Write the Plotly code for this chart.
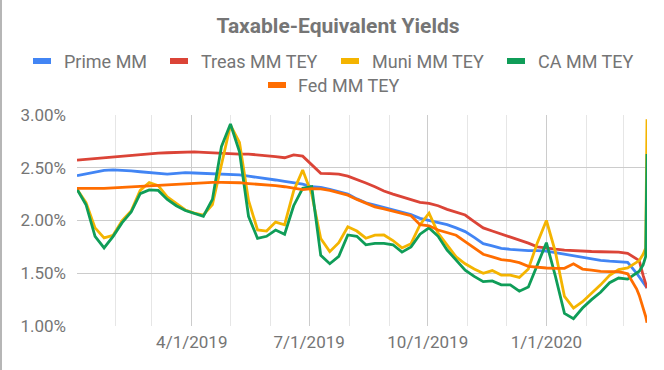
import plotly.graph_objects as go

dates = [
    "2019-01-02", "2019-01-09", "2019-01-16", "2019-01-23", "2019-01-30",
    "2019-02-06", "2019-02-13", "2019-02-20", "2019-02-27", "2019-03-06",
    "2019-03-13", "2019-03-20", "2019-03-27", "2019-04-03", "2019-04-10",
    "2019-04-17", "2019-04-24", "2019-05-01", "2019-05-08", "2019-05-15",
    "2019-05-22", "2019-05-29", "2019-06-05", "2019-06-12", "2019-06-19",
    "2019-06-26", "2019-07-03", "2019-07-10", "2019-07-17", "2019-07-24",
    "2019-07-31", "2019-08-07", "2019-08-14", "2019-08-21", "2019-08-28",
    "2019-09-04", "2019-09-11", "2019-09-18", "2019-09-25", "2019-10-02",
    "2019-10-09", "2019-10-16", "2019-10-23", "2019-10-30", "2019-11-06",
    "2019-11-13", "2019-11-20", "2019-11-27", "2019-12-04", "2019-12-11",
    "2019-12-18", "2019-12-25", "2020-01-01", "2020-01-08", "2020-01-15",
    "2020-01-22", "2020-01-29", "2020-02-05", "2020-02-12", "2020-02-19",
    "2020-02-26", "2020-03-04", "2020-03-11", "2020-03-13", "2020-03-16",
    "2020-03-17", "2020-03-18", "2020-03-19",
]

prime_mm = [2.425, 2.44, 2.46, 2.475, 2.479, 2.478, 2.47, 2.462, 2.455, 2.45,
            2.44, 2.447, 2.453, 2.45, 2.447, 2.444, 2.441, 2.44, 2.432, 2.42,
            2.41, 2.398, 2.384, 2.37, 2.355, 2.345, 2.32, 2.313, 2.296, 2.276,
            2.25, 2.205, 2.168, 2.145, 2.123, 2.10, 2.08, 2.055, 2.02, 2.0,
            1.985, 1.96, 1.93, 1.895, 1.84, 1.78, 1.76, 1.735, 1.727, 1.72,
            1.715, 1.714, 1.71, 1.695, 1.68, 1.663, 1.645, 1.633, 1.622, 1.614,
            1.61, 1.603, 1.50, 1.465, 1.42, 1.40, 1.375, 1.36]

treas_tey = [2.573, 2.58, 2.59, 2.60, 2.607, 2.615, 2.62, 2.627, 2.634, 2.638,
             2.642, 2.645, 2.646, 2.65, 2.645, 2.64, 2.635, 2.63, 2.63, 2.63,
             2.624, 2.616, 2.605, 2.595, 2.622, 2.61, 2.53, 2.447, 2.445, 2.44,
             2.42, 2.39, 2.355, 2.32, 2.28, 2.25, 2.225, 2.20, 2.172, 2.163,
             2.14, 2.105, 2.08, 2.052, 1.99, 1.93, 1.90, 1.872, 1.845, 1.82,
             1.785, 1.75, 1.737, 1.728, 1.72, 1.714, 1.71, 1.706, 1.704, 1.704,
             1.70, 1.689, 1.635, 1.62, 1.48, 1.44, 1.40, 1.36]

muni_tey = [2.296, 2.17, 1.93, 1.835, 1.86, 2.00, 2.09, 2.285, 2.36, 2.33,
            2.225, 2.16, 2.10, 2.07, 2.052, 2.15, 2.52, 2.905, 2.74, 2.19,
            1.91, 1.90, 1.985, 1.96, 2.28, 2.478, 2.25, 1.83, 1.705, 1.79,
            1.94, 1.90, 1.832, 1.862, 1.863, 1.81, 1.74, 1.78, 1.96, 2.07,
            1.88, 1.77, 1.655, 1.59, 1.54, 1.50, 1.525, 1.483, 1.483, 1.46,
            1.54, 1.79, 2.0, 1.70, 1.28, 1.17, 1.23, 1.31, 1.39, 1.48,
            1.535, 1.55, 1.60, 1.62, 1.68, 1.71, 1.74, 2.96]

ca_tey = [2.296, 2.15, 1.85, 1.74, 1.85, 1.98, 2.08, 2.255, 2.29, 2.285,
          2.20, 2.14, 2.095, 2.07, 2.04, 2.20, 2.70, 2.915, 2.65, 2.04,
          1.83, 1.85, 1.91, 1.87, 2.14, 2.305, 2.32, 1.67, 1.59, 1.66,
          1.863, 1.85, 1.77, 1.784, 1.784, 1.77, 1.70, 1.75, 1.87, 1.93,
          1.85, 1.72, 1.62, 1.53, 1.47, 1.42, 1.427, 1.39, 1.39, 1.33,
          1.37, 1.58, 1.79, 1.47, 1.12, 1.07, 1.17, 1.25, 1.32, 1.41,
          1.455, 1.445, 1.50, 1.52, 1.58, 1.62, 1.66, 2.63]

fed_tey = [2.305, 2.303, 2.303, 2.305, 2.31, 2.315, 2.32, 2.325, 2.33, 2.333,
           2.34, 2.346, 2.346, 2.355, 2.36, 2.362, 2.362, 2.362, 2.358, 2.35,
           2.345, 2.335, 2.33, 2.32, 2.305, 2.292, 2.303, 2.30, 2.285, 2.265,
           2.24, 2.20, 2.165, 2.13, 2.11, 2.09, 2.065, 2.045, 1.96, 1.95,
           1.91, 1.885, 1.86, 1.80, 1.74, 1.68, 1.655, 1.63, 1.62, 1.60,
           1.565, 1.555, 1.55, 1.547, 1.547, 1.59, 1.54, 1.53, 1.518, 1.515,
           1.515, 1.495, 1.35, 1.29, 1.18, 1.14, 1.09, 1.03]

series_names = ["Prime MM", "Treas MM TEY", "Muni MM TEY", "CA MM TEY", "Fed MM TEY"]
series_values = [prime_mm, treas_tey, muni_tey, ca_tey, fed_tey]
series_colors = ["#4285F4", "#DB4437", "#F4B400", "#0F9D58", "#FF6D00"]

y_ticks = [1.0, 1.5, 2.0, 2.5, 3.0]
y_tick_labels = ["1.00%", "1.50%", "2.00%", "2.50%", "3.00%"]
x_ticks = ["2019-04-01", "2019-07-01", "2019-10-01", "2020-01-01"]

W, H = 664, 370
ML, MR, MT, MB = 77, 17, 115, 44
PW, PH = W - ML - MR, H - MT - MB
TEXT = "#757575"
FONT = "Roboto"


def px_x(px):
    return (px - ML) / PW


def px_y(py):
    return (H - MB - py) / PH


fig = go.Figure()
for name, vals, col in zip(series_names, series_values, series_colors):
    fig.add_trace(go.Scatter(x=dates, y=vals, name=name, mode="lines",
                             line=dict(color=col, width=2.8), showlegend=False))

# legend drawn as shapes + text (position of marker, text start, centre y)
legend_pos = [(33, 64, 61), (170, 201, 61), (341, 372, 61), (507, 538, 61), (268, 298, 85)]
shapes = []
annotations = []
for name, (mx, tx, cy), col in zip(series_names, legend_pos, series_colors):
    shapes.append(dict(type="rect", xref="paper", yref="paper",
                       x0=px_x(mx), x1=px_x(mx + 18), y0=px_y(cy + 3), y1=px_y(cy - 3),
                       fillcolor=col, line=dict(width=0)))
    annotations.append(dict(text=name, xref="paper", yref="paper", x=px_x(tx - 2), y=px_y(cy),
                            xanchor="left", yanchor="middle", showarrow=False,
                            font=dict(family=FONT, size=18, color=TEXT)))

# left frame line
shapes.append(dict(type="line", xref="paper", yref="paper", x0=px_x(1), x1=px_x(1),
                   y0=px_y(H), y1=px_y(0), line=dict(color="#9e9e9e", width=1.5)))

fig.update_layout(
    width=W, height=H,
    margin=dict(l=ML, r=MR, t=MT, b=MB),
    paper_bgcolor="white", plot_bgcolor="white",
    hovermode=False,
    title=dict(text="<b>Taxable-Equivalent Yields</b>", xref="container", yref="container",
               x=338 / W, y=1 - 26 / H, xanchor="center", yanchor="middle",
               font=dict(family=FONT, size=21, color=TEXT)),
    shapes=shapes, annotations=annotations,
    showlegend=False,
    xaxis=dict(type="date", range=["2019-01-02", "2020-03-19"],
               tickvals=x_ticks, tickformat="%-m/%-d/%Y",
               showgrid=True, gridcolor="#cccccc", gridwidth=1,
               minor=dict(dtick="M1", tick0="2019-01-01", showgrid=True,
                          gridcolor="#e6e6e6", gridwidth=1),
               zeroline=False, showline=False, ticks="",
               ticklabelstandoff=4,
               tickfont=dict(family=FONT, size=17, color=TEXT)),
    yaxis=dict(range=[1, 3], tickvals=y_ticks, ticktext=y_tick_labels,
               showgrid=True, gridcolor="#cccccc", gridwidth=1,
               zeroline=False, showline=False, ticks="",
               ticklabelstandoff=10,
               tickfont=dict(family=FONT, size=17, color=TEXT)),
)

fig.write_html("out.html", config={"displayModeBar": False, "staticPlot": True},
               post_script="document.body.style.margin='0px';")
